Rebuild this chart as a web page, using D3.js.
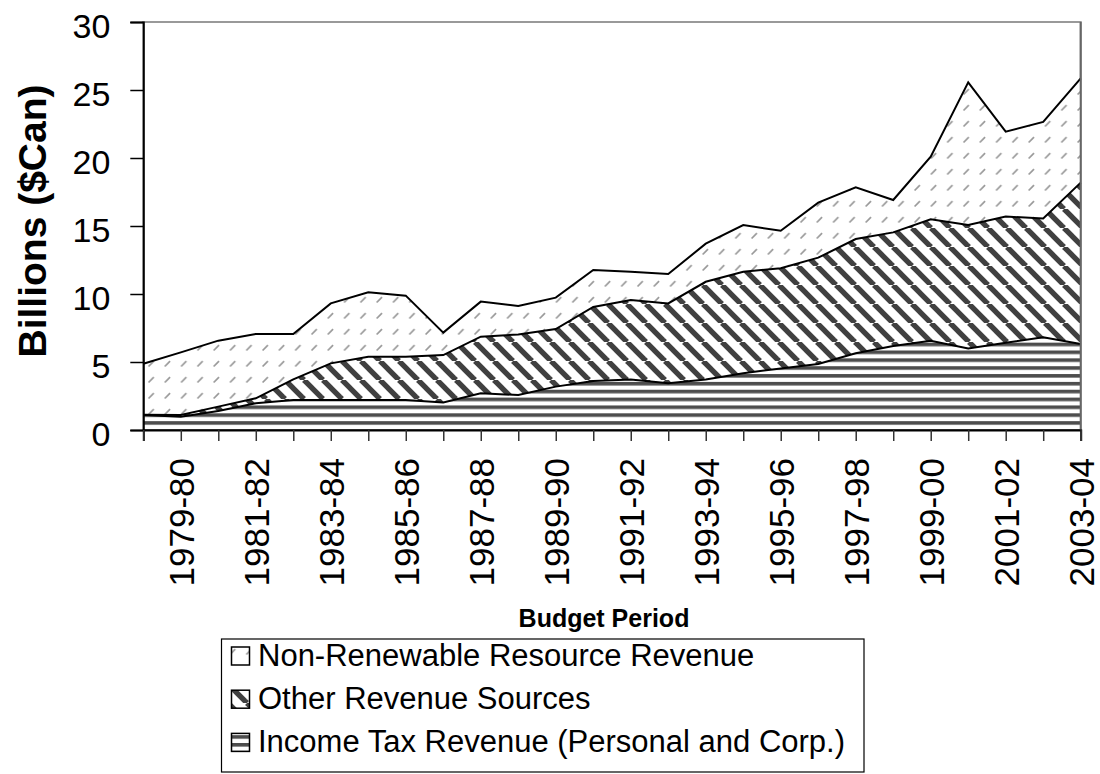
<!DOCTYPE html>
<html>
<head>
<meta charset="utf-8">
<script src="https://cdn.jsdelivr.net/npm/d3@7"></script>
<style>
  html, body { margin: 0; padding: 0; background: #fff; }
  svg { display: block; font-family: "Liberation Sans", Arial, sans-serif; }
</style>
</head>
<body>
<svg id="chart" width="1100" height="774"></svg>
<script>
const categories = ["1978-79","1979-80","1980-81","1981-82","1982-83","1983-84","1984-85","1985-86","1986-87","1987-88","1988-89","1989-90","1990-91","1991-92","1992-93","1993-94","1994-95","1995-96","1996-97","1997-98","1998-99","1999-00","2000-01","2001-02","2002-03","2003-04"];
const incomeTax    = [1.10, 0.98, 1.40, 1.96, 2.20, 2.20, 2.20, 2.20, 2.03, 2.70, 2.57, 3.19, 3.60, 3.72, 3.43, 3.72, 4.17, 4.53, 4.85, 5.64, 6.18, 6.57, 6.00, 6.42, 6.81, 6.32];
const otherRevenue = [0.02, 0.12, 0.32, 0.37, 1.52, 2.70, 3.19, 3.19, 3.48, 4.16, 4.46, 4.23, 5.45, 5.84, 5.88, 7.18, 7.47, 7.36, 7.82, 8.40, 8.35, 8.92, 9.07, 9.27, 8.75, 11.87];
const nonRenewable = [3.75, 4.61, 4.85, 4.73, 3.34, 4.41, 4.73, 4.49, 1.65, 2.58, 2.09, 2.31, 2.71, 2.08, 2.16, 2.80, 3.43, 2.76, 4.05, 3.80, 2.38, 4.61, 10.49, 6.25, 7.09, 7.66];
const seriesKeys   = ["income", "other", "nonren"];
const seriesNames  = {
  nonren: "Non-Renewable Resource Revenue",
  other: "Other Revenue Sources",
  income: "Income Tax Revenue (Personal and Corp.)"
};
const legendOrder = ["nonren", "other", "income"];
const yTicks = [0, 5, 10, 15, 20, 25, 30];

(function () {
const rows = categories.map((c, i) => ({
  cat: c, income: incomeTax[i], other: otherRevenue[i], nonren: nonRenewable[i]
}));

const svg = d3.select("#chart");
const pLeft = 143.3, pRight = 1080.7, pTop = 22, pBottom = 430;

const x = d3.scalePoint().domain(categories).range([pLeft, pRight]);
const y = d3.scaleLinear().domain([0, 30]).range([pBottom, pTop]);

// patterns
const defs = svg.append("defs");
const pH = defs.append("pattern").attr("id", "pat-income")
  .attr("patternUnits", "userSpaceOnUse").attr("width", 10).attr("height", 7.85)
  .attr("y", pBottom - 1);
pH.append("rect").attr("width", 10).attr("height", 7.85).attr("fill", "#fff");
pH.append("rect").attr("y", 0).attr("width", 10).attr("height", 3.6).attr("fill", "#4d4d4d");

const dp = 19;
const pD = defs.append("pattern").attr("id", "pat-other")
  .attr("patternUnits", "userSpaceOnUse").attr("width", dp).attr("height", dp);
pD.append("rect").attr("width", dp).attr("height", dp).attr("fill", "#fff");
[-dp, 0, dp].forEach(ox => {
  pD.append("line").attr("x1", ox).attr("y1", 0).attr("x2", ox + dp).attr("y2", dp)
    .attr("stroke", "#404040").attr("stroke-width", 5.4);
});

const pN = defs.append("pattern").attr("id", "pat-nonren")
  .attr("patternUnits", "userSpaceOnUse").attr("width", 16.3).attr("height", 16)
  .attr("x", 147).attr("y", 0);
pN.append("rect").attr("width", 16.3).attr("height", 16).attr("fill", "#fff");
pN.append("line").attr("x1", 1.5).attr("y1", 14.5).attr("x2", 6.8).attr("y2", 9.2)
  .attr("stroke", "#9a9a9a").attr("stroke-width", 1.7);

const fills = { income: "url(#pat-income)", other: "url(#pat-other)", nonren: "url(#pat-nonren)" };

svg.append("rect").attr("x", pLeft).attr("y", pTop).attr("width", pRight - pLeft).attr("height", pBottom - pTop)
  .attr("fill", "#fff").attr("stroke", "#999").attr("stroke-width", 2);

const stacked = d3.stack().keys(seriesKeys)(rows);
const area = d3.area().x(d => x(d.data.cat)).y0(d => y(d[0])).y1(d => y(d[1]));
const line = d3.line().x(d => x(d.data.cat)).y(d => y(d[1]));

svg.append("g").selectAll("path").data(stacked).join("path")
  .attr("d", area).attr("fill", d => fills[d.key]);
svg.append("g").selectAll("path").data(stacked).join("path")
  .attr("d", line).attr("fill", "none").attr("stroke", "#000").attr("stroke-width", 2);

svg.append("line").attr("x1", pRight).attr("x2", pRight).attr("y1", pTop).attr("y2", pBottom)
  .attr("stroke", "#666").attr("stroke-width", 2);

// Y axis
const yAxis = svg.append("g").attr("transform", `translate(${pLeft},0)`)
  .call(d3.axisLeft(y).tickValues(yTicks).tickSize(13).tickPadding(20).tickFormat(d3.format("d")));
yAxis.select(".domain").attr("stroke", "#000").attr("stroke-width", 2);
yAxis.selectAll(".tick line").attr("stroke", "#000").attr("stroke-width", 1.5);
yAxis.selectAll(".tick text").attr("font-size", 34).attr("fill", "#000")
  .attr("font-family", "Liberation Sans, Arial, sans-serif").attr("dy", "0.46em");

// X axis
const xAxis = svg.append("g").attr("transform", `translate(0,${pBottom})`)
  .call(d3.axisBottom(x).tickSize(11).tickFormat((d, i) => i % 2 === 1 ? d : ""));
xAxis.select(".domain").attr("stroke", "#000").attr("stroke-width", 2);
xAxis.selectAll(".tick line").attr("stroke", "#333").attr("stroke-width", 1.5);
xAxis.selectAll(".tick text")
  .attr("font-size", 35).attr("fill", "#000")
  .attr("font-family", "Liberation Sans, Arial, sans-serif")
  .attr("text-anchor", "end")
  .attr("dy", null)
  .attr("x", 0).attr("y", 0)
  .attr("transform", "translate(12.5,28) rotate(-90)");

// Axis titles
svg.append("text").attr("transform", "translate(46,221) rotate(-90)")
  .attr("text-anchor", "middle").attr("font-size", 39).attr("font-weight", "bold")
  .attr("fill", "#000").text("Billions ($Can)");
svg.append("text").attr("x", 604).attr("y", 627).attr("text-anchor", "middle")
  .attr("font-size", 25).attr("font-weight", "bold").attr("fill", "#000").text("Budget Period");

// Legend
const lg = svg.append("g");
lg.append("rect").attr("x", 221.5).attr("y", 639).attr("width", 642.5).attr("height", 133)
  .attr("fill", "#fff").attr("stroke", "#000").attr("stroke-width", 1.2);
legendOrder.forEach((k, i) => {
  const by = 665.5 + i * 43.2;
  lg.append("rect").attr("x", 231.5).attr("y", by - 18.5).attr("width", 18).attr("height", 18)
    .attr("fill", fills[k]).attr("stroke", "#000").attr("stroke-width", 1.5);
  lg.append("text").attr("x", 258).attr("y", by).attr("font-size", 31).attr("fill", "#000")
    .text(seriesNames[k]);
});
})();
</script>
</body>
</html>
